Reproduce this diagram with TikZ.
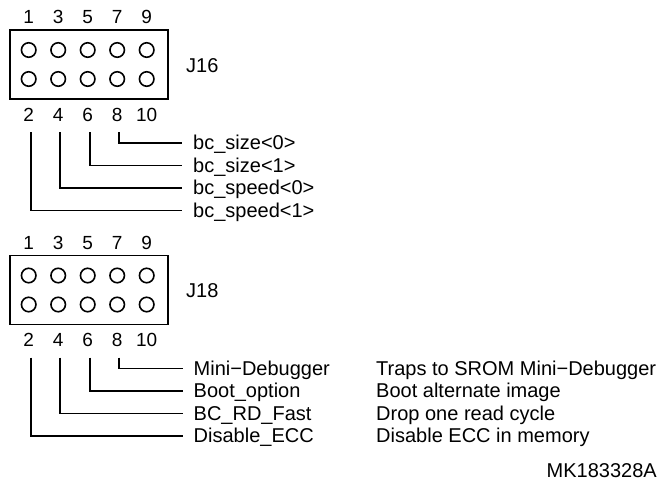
\documentclass[tikz,border=0pt]{standalone}
\usepackage{fontspec}
\setmainfont{Liberation Sans}
\begin{document}
\begin{tikzpicture}[x=1pt,y=-1pt,
  lbl/.style={anchor=west,inner sep=0pt,text height=13pt,text depth=0pt,font=\fontsize{20}{24}\selectfont},
  num/.style={inner sep=0pt,text height=13.6pt,text depth=0pt,font=\fontsize{19}{22}\selectfont},
  pin/.style={circle,draw,line width=1.6pt,minimum size=14.5pt,inner sep=0pt},
  hdr/.style={draw,line width=1.8pt,inner sep=0pt,minimum width=158pt,minimum height=69pt},
  wire/.style={line width=1.6pt,shorten >=11pt}]
\useasboundingbox (0,0) rectangle (666,483);

\foreach \J/\dy in {J16/0,J18/225.5}{
  \begin{scope}[yshift=-\dy pt]
    \node[hdr] (\J box) at (89,64.5) {};
    \node[lbl,text height=14.3pt] (\J lab) at (186,65) {\J};
    \foreach \k/\t/\b in {0/1/2,1/3/4,2/5/6,3/7/8,4/9/10}{
      \pgfmathsetmacro{\px}{28.7+29.5*\k}
      \node[pin] (\J p\t) at (\px,50) {};
      \node[pin] (\J p\b) at (\px,79) {};
      \node[num] (\J n\t) at (\px,17) {\t};
      \node[num] (\J n\b) at (\px,114.5) {\b};
    }
    \foreach \k/\b in {0/2,1/4,2/6,3/8}{
      \pgfmathsetmacro{\px}{30.7+29.5*\k}
      \coordinate (\J t\b) at (\px,132);
    }
  \end{scope}
}

% J16 labels
\node[lbl] (s8) at (193,143) {bc\_size<0>};
\node[lbl] (s6) at (193,165.5) {bc\_size<1>};
\node[lbl] (s4) at (193,188) {bc\_speed<0>};
\node[lbl] (s2) at (193,210.5) {bc\_speed<1>};
\foreach \b in {8,6,4,2}{\draw[wire] (J16t\b) |- (s\b.west);}

% J18 labels
\node[lbl] (m8) at (193.5,368.5) {Mini−Debugger};
\node[lbl] (m6) at (193.5,391) {Boot\_option};
\node[lbl] (m4) at (193.5,413.5) {BC\_RD\_Fast};
\node[lbl] (m2) at (193.5,436) {Disable\_ECC};
\foreach \b in {8,6,4,2}{\draw[wire] (J18t\b) |- (m\b.west);}

\node[lbl] (d8) at (376,368.5) {Traps to SROM Mini−Debugger};
\node[lbl] (d6) at (376,391) {Boot alternate image};
\node[lbl] (d4) at (376,413.5) {Drop one read cycle};
\node[lbl] (d2) at (376,436) {Disable ECC in memory};

\node[lbl,anchor=east] (mk) at (657,471) {MK183328A};
\end{tikzpicture}
\end{document}
